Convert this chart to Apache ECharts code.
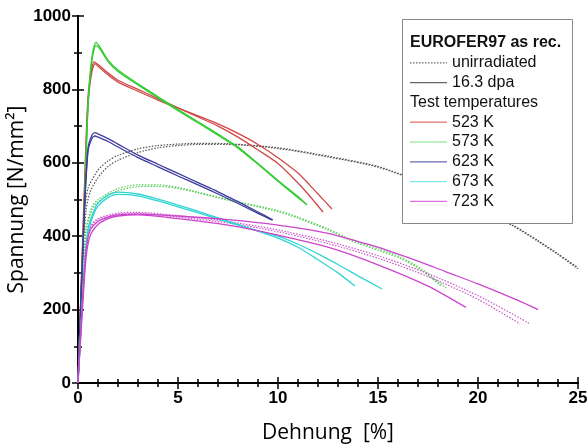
<!DOCTYPE html>
<html>
<head>
<meta charset="utf-8">
<script src="https://cdn.jsdelivr.net/npm/echarts@6/dist/echarts.min.js"></script>
<style>
  html, body { margin: 0; padding: 0; background: #fff; }
  #chart { width: 588px; height: 447px; }
</style>
</head>
<body>
<div id="chart"></div>
<script>
// Achsen
var xTicks = [0, 5, 10, 15, 20, 25];
var yTicks = [0, 200, 400, 600, 800, 1000];

// 16.3 dpa (durchgezogen), je zwei Proben
var red523a = [[0,0],[0.3,500],[0.5,780],[0.7,860],[0.8,875],[1,868],[1.5,845],[2,825],[3,800],[4,775],[5,750],[6,725],[7,700],[8,670],[9,635],[10,598],[11,545],[11.5,515],[12.25,466]];
var red523b = [[0,0],[0.3,480],[0.5,760],[0.7,850],[0.85,870],[1,863],[1.5,840],[2,820],[3,795],[4,771],[5,749],[6,728],[7,706],[8,680],[9,650],[10,614],[11,572],[12,515],[12.7,474]];
var green573a = [[0,0],[0.3,450],[0.5,760],[0.7,890],[0.9,928],[1.1,915],[1.5,880],[2,853],[3,815],[4,780],[5,745],[6,712],[7,678],[8,643],[9,598],[10,552],[11,508],[11.45,485]];
var green573b = [[0,0],[0.3,440],[0.5,750],[0.7,880],[0.9,920],[1.1,910],[1.5,876],[2,849],[3,812],[4,777],[5,742],[6,709],[7,675],[8,640],[9,596],[10,550],[11,505],[11.4,488]];
var blue623a = [[0,0],[0.3,450],[0.5,640],[0.7,676],[0.85,682],[1,679],[1.5,666],[2,651],[3,621],[4,596],[5,571],[6,546],[7,521],[8,494],[9,466],[9.75,444]];
var blue623b = [[0,0],[0.3,440],[0.5,630],[0.7,667],[0.85,673],[1,670],[1.5,658],[2,643],[3,614],[4,589],[5,564],[6,540],[7,515],[8,489],[9,462],[9.7,444]];
var cyan673a = [[0,0],[0.3,300],[0.5,420],[0.8,470],[1,490],[1.5,512],[2,520],[3,515],[4,501],[5,485],[6,468],[7,450],[8,432],[9,414],[10,395],[11,370],[12,336],[13,300],[13.85,264]];
var cyan673b = [[0,0],[0.3,290],[0.5,410],[0.8,462],[1,482],[1.5,505],[2,514],[3,510],[4,496],[5,480],[6,464],[7,447],[8,430],[9,414],[10,400],[11,378],[12,352],[13,323],[14,292],[15.2,256]];
var mag723a = [[0,0],[0.2,200],[0.4,360],[0.6,415],[1,440],[1.5,452],[2,458],[3,460],[5,455],[7.5,445],[10,430],[12.5,408],[14.1,384],[15,370],[17.5,322],[18.4,303],[20,270],[22,225],[23,200]];
var mag723b = [[0,0],[0.2,180],[0.4,340],[0.6,400],[1,432],[1.5,448],[2,455],[3,458],[5,448],[7.5,430],[10,403],[12.5,370],[15,322],[17.5,264],[19.4,206]];

// unbestrahlt (gepunktet)
var blackUa = [[0,0],[0.15,250],[0.3,450],[0.5,530],[1,580],[1.5,605],[2,620],[3,638],[4,647],[5,651],[6,653],[7.5,652],[10,641],[12.5,618],[15,590],[17.5,540],[20,476],[21.75,430],[23,388],[24,352],[25,314]];
var blackUb = [[0,0],[0.2,300],[0.4,470],[0.6,520],[1,560],[1.5,590],[2,607],[3,628],[4,641],[5,647],[6,650],[7.5,650],[10,639],[12.5,616],[15,588],[17.5,538],[20,474],[21.75,428],[23,386],[24,350],[25,311]];
var greenUa = [[0,0],[0.2,250],[0.4,420],[0.7,480],[1,500],[2,530],[3,540],[4,540],[5,533],[6,520],[7.5,500],[10,470],[11,452],[12.5,420],[13.6,392],[15.1,364],[16.1,344],[17.2,310],[18.4,259]];
var greenUb = [[0,0],[0.2,240],[0.4,410],[0.7,472],[1,494],[2,524],[3,535],[4,536],[5,530],[6,518],[7.5,498],[10,467],[11,449],[12.5,417],[13.6,389],[15.1,360],[16.1,340],[17.2,306],[18.2,262]];
var magUa = [[0,0],[0.2,220],[0.4,370],[0.6,420],[1,445],[2,460],[3,462],[5,452],[7.5,436],[10,412],[12.5,380],[15,340],[17.5,290],[20,228],[22.1,161]];
var magUb = [[0,0],[0.2,230],[0.4,375],[0.6,425],[1,448],[2,463],[3,465],[5,456],[7.5,440],[10,417],[12.5,386],[15,347],[17.5,298],[20,238],[22.55,163]];

var curves = [
    {d: blackUa, c: '#555555', dot: true},
    {d: blackUb, c: '#555555', dot: true},
    {d: greenUa, c: '#55cc55', dot: true},
    {d: greenUb, c: '#55cc55', dot: true},
    {d: magUa, c: '#cc55cc', dot: true},
    {d: magUb, c: '#cc55cc', dot: true},
    {d: red523a, c: '#d04848'},
    {d: red523b, c: '#d04848'},
    {d: green573a, c: '#33cc33'},
    {d: green573b, c: '#33cc33'},
    {d: blue623a, c: '#3c3c9c'},
    {d: blue623b, c: '#3c3c9c'},
    {d: cyan673a, c: '#33d4d4'},
    {d: cyan673b, c: '#33d4d4'},
    {d: mag723a, c: '#cc44cc'},
    {d: mag723b, c: '#cc44cc'}
];

var series = curves.map(function (k) {
    return {
        type: 'line',
        data: k.d,
        showSymbol: false,
        smooth: 0.25,
        clip: true,
        lineStyle: {color: k.c, width: k.dot ? 1.2 : 1.3, type: k.dot ? [1.5, 1.5] : 'solid'}
    };
});

var chart = echarts.init(document.getElementById('chart'));

var tickFont = {fontFamily: 'Liberation Sans', fontWeight: 'bold', fontSize: 17, color: '#000'};
var axLine = {lineStyle: {color: '#000', width: 2}};

function xAx(pos, label) {
    return {
        type: 'value', position: pos, min: 0, max: 25, interval: 5,
        axisLine: axLine,
        axisTick: {inside: true, length: 6, lineStyle: {color: '#000', width: 1.5}},
        minorTick: {show: true, splitNumber: 5, length: 4, lineStyle: {color: '#000', width: 1.5}},
        axisLabel: label ? Object.assign({margin: 7, formatter: function (v) { return xTicks.indexOf(v) >= 0 ? v : ''; }}, tickFont) : {show: false},
        splitLine: {show: false},
        name: label ? 'Dehnung  [%]' : '',
        nameLocation: 'middle', nameGap: 40,
        nameTextStyle: {fontFamily: 'Open Sans', fontSize: 21, color: '#000'}
    };
}
function yAx(pos, label) {
    return {
        type: 'value', position: pos, min: 0, max: 1000, interval: 200,
        axisLine: axLine,
        axisTick: {inside: true, length: 6, lineStyle: {color: '#000', width: 1.5}},
        minorTick: {show: true, splitNumber: 2, length: 4, lineStyle: {color: '#000', width: 1.5}},
        axisLabel: label ? Object.assign({margin: 7, formatter: function (v) { return yTicks.indexOf(v) >= 0 ? v : ''; }}, tickFont) : {show: false},
        splitLine: {show: false},
        name: label ? 'Spannung [N/mm²]' : '',
        nameLocation: 'middle', nameGap: 50, nameMoveOverlap: false,
        nameTextStyle: {fontFamily: 'Open Sans', fontSize: 21, color: '#000'}
    };
}

// Legende als Kasten
var legItems = [
    {t: 'EUROFER97 as rec.', bold: true},
    {t: 'unirradiated', c: '#666666', dot: true},
    {t: '16.3 dpa', c: '#666666'},
    {t: 'Test temperatures'},
    {t: '523 K', c: '#e07070'},
    {t: '573 K', c: '#80e080'},
    {t: '623 K', c: '#6a6ab0'},
    {t: '673 K', c: '#80e8e8'},
    {t: '723 K', c: '#e070e0'}
];
var graphics = [{
    type: 'rect', z: 100,
    shape: {x: 402.5, y: 19.5, width: 170, height: 204},
    style: {fill: '#fff', stroke: '#888', lineWidth: 1}
}];
legItems.forEach(function (it, i) {
    var y = 43 + i * 19.8;
    if (it.c) {
        graphics.push({type: 'line', z: 101, shape: {x1: 410, y1: y, x2: 447, y2: y},
            style: {stroke: it.c, lineWidth: 1.2, lineDash: it.dot ? [1.5, 1.5] : null}});
    }
    graphics.push({type: 'text', z: 101, x: it.c ? 452 : 410, y: y,
        style: {text: it.t, fill: '#111', font: (it.bold ? 'bold ' : '') + '16px "Liberation Sans"', textVerticalAlign: 'middle'}});
});

var option = {
    animation: false,
    grid: {left: 78, right: 10, top: 16, bottom: 64, outerBoundsMode: 'none'},
    xAxis: [xAx('bottom', true), xAx('top', false)],
    yAxis: [yAx('left', true), yAx('right', false)],
    series: series,
    graphic: graphics
};
chart.setOption(option);
</script>
</body>
</html>
